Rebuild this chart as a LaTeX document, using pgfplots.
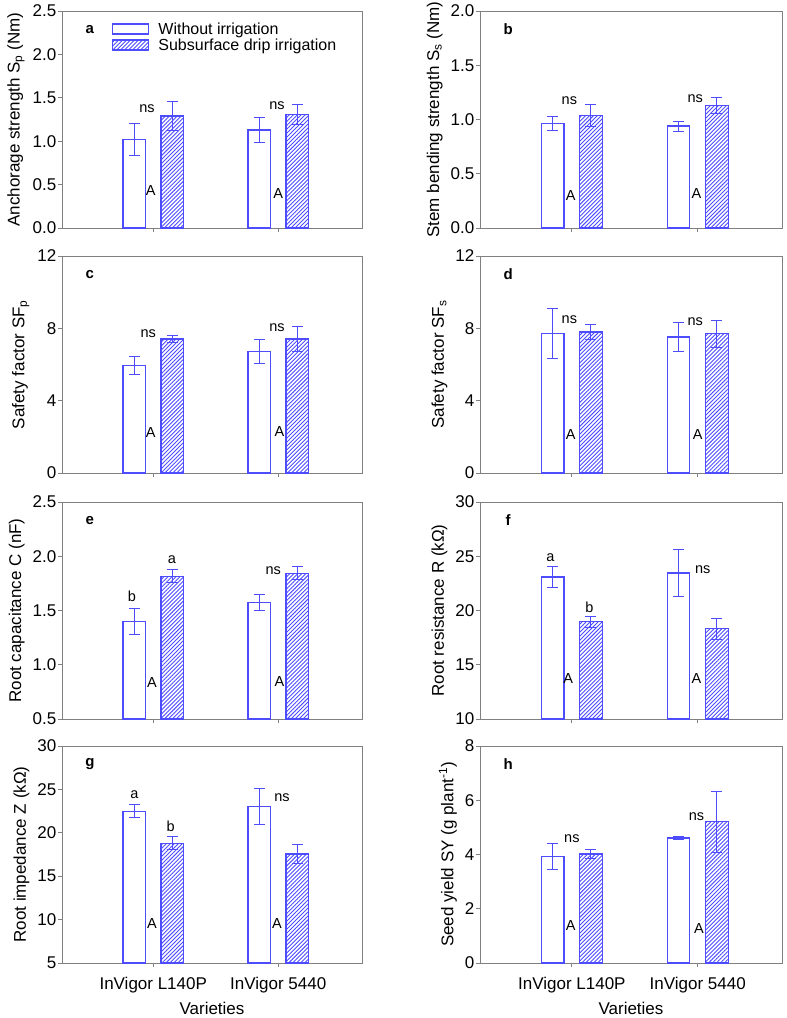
\documentclass[border=0pt]{standalone}
\usepackage{fontspec}
\setmainfont{Liberation Sans}
\usepackage{pgfplots}
\pgfplotsset{compat=1.18}
\usetikzlibrary{patterns.meta}
\definecolor{barblue}{HTML}{4D4DFF}
\definecolor{framegray}{HTML}{808080}
\newcommand\fs[1]{\fontsize{#1bp}{#1bp}\selectfont}

% bars sit at their own x (1 -/+ 0.152), so the error bars line up with them
\pgfplotsset{
  panel/.style={
    scale only axis, width=300bp, height=217bp,
    xmin=0.27, xmax=2.67, xtick={1,2}, xticklabels={},
    tick align=outside, xtick pos=bottom, ytick pos=left,
    major tick length=4bp,
    /pgf/number format/assume math mode=true,
    axis line style={draw=framegray, line width=0.8bp},
    tick style={draw=framegray, line width=0.8bp},
    ticklabel style={font=\fs{17}},
    yticklabel style={inner sep=1.5bp},
    xticklabel style={yshift=-7bp},
    label style={font=\fs{17}},
    ylabel style={yshift=3bp},
    xlabel style={yshift=-2bp},
    legend image code/.code={\draw[##1] (0bp,-5bp) rectangle (36bp,5bp);},
  },
  rcol/.style={panel, width=302bp},
  openbar/.style={ybar, bar width=0.18, bar shift=0, draw=barblue,
    fill=white, line width=1.2bp,
    error bars/.cd, y dir=both, y explicit,
    error bar style={draw=barblue, line width=1bp},
    error mark options={rotate=90, draw=barblue, mark size=5.5bp, line width=1bp}},
  hatchbar/.style={ybar, bar width=0.18, bar shift=0, draw=barblue,
    pattern={Lines[angle=45, distance=2.8bp, line width=0.9bp]},
    pattern color=barblue, line width=1.2bp,
    error bars/.cd, y dir=both, y explicit,
    error bar style={draw=barblue, line width=1bp},
    error mark options={rotate=90, draw=barblue, mark size=5.5bp, line width=1bp}},
}
\tikzset{
  note/.style={font=\fs{14.5}, inner sep=0pt},
  tag/.style={font=\fs{15}\bfseries, inner sep=0pt},
}

\begin{document}
\begin{tikzpicture}
\useasboundingbox (0,0) rectangle (787bp,-1018bp);

% a
\begin{axis}[panel, at={(62bp,-228bp)}, anchor=south west,
  ymin=0, ymax=2.5, ytick={0,0.5,1,1.5,2,2.5},
  yticklabels={0.0,0.5,1.0,1.5,2.0,2.5},
  ylabel={Anchorage strength S\textsubscript{p} (Nm)},
  legend style={at={(rel axis cs:0.165,0.955)}, anchor=north west,
    draw=none, fill=none, font=\fs{16}, row sep=0bp,
    inner sep=0pt, nodes={inner sep=1.5bp},
    /tikz/every odd column/.append style={column sep=8bp}},
  legend cell align=left]
\addplot[openbar] coordinates {(0.848,1.02) +- (0,0.18) (1.848,1.13) +- (0,0.14)};
\addlegendentry{Without irrigation}
\addplot[hatchbar] coordinates {(1.152,1.29) +- (0,0.17) (2.152,1.31) +- (0,0.115)};
\addlegendentry{Subsurface drip irrigation}
\node[tag] at (rel axis cs:0.093,0.915) {a};
\node[note] at (axis cs:0.95,1.38) {ns};
\node[note] at (axis cs:1.99,1.41) {ns};
\node[note] at (axis cs:0.98,0.43) {A};
\node[note] at (axis cs:2.0,0.40) {A};
\end{axis}

% b
\begin{axis}[rcol, at={(480bp,-228bp)}, anchor=south west,
  ymin=0, ymax=2, ytick={0,0.5,1,1.5,2},
  yticklabels={0.0,0.5,1.0,1.5,2.0},
  ylabel={Stem bending strength S\textsubscript{s} (Nm)}]
\addplot[openbar] coordinates {(0.848,0.96) +- (0,0.065) (1.848,0.94) +- (0,0.046)};
\addplot[hatchbar] coordinates {(1.152,1.04) +- (0,0.10) (2.152,1.13) +- (0,0.073)};
\node[tag] at (rel axis cs:0.093,0.915) {b};
\node[note] at (axis cs:0.98,1.17) {ns};
\node[note] at (axis cs:1.98,1.19) {ns};
\node[note] at (axis cs:0.99,0.30) {A};
\node[note] at (axis cs:1.99,0.32) {A};
\end{axis}

% c
\begin{axis}[panel, at={(62bp,-473bp)}, anchor=south west,
  ymin=0, ymax=12, ytick={0,4,8,12},
  ylabel={Safety factor SF\textsubscript{p}}]
\addplot[openbar] coordinates {(0.848,5.93) +- (0,0.5) (1.848,6.74) +- (0,0.67)};
\addplot[hatchbar] coordinates {(1.152,7.41) +- (0,0.19) (2.152,7.41) +- (0,0.71)};
\node[tag] at (rel axis cs:0.093,0.915) {c};
\node[note] at (axis cs:0.96,7.7) {ns};
\node[note] at (axis cs:1.99,8.02) {ns};
\node[note] at (axis cs:0.98,2.22) {A};
\node[note] at (axis cs:2.01,2.28) {A};
\end{axis}

% d
\begin{axis}[rcol, at={(480bp,-473bp)}, anchor=south west,
  ymin=0, ymax=12, ytick={0,4,8,12},
  ylabel={Safety factor SF\textsubscript{s}}]
\addplot[openbar] coordinates {(0.848,7.72) +- (0,1.39) (1.848,7.52) +- (0,0.78)};
\addplot[hatchbar] coordinates {(1.152,7.80) +- (0,0.40) (2.152,7.71) +- (0,0.75)};
\node[tag] at (rel axis cs:0.093,0.915) {d};
\node[note] at (axis cs:0.98,8.48) {ns};
\node[note] at (axis cs:1.98,8.37) {ns};
\node[note] at (axis cs:0.99,2.15) {A};
\node[note] at (axis cs:2.0,2.15) {A};
\end{axis}

% e
\begin{axis}[panel, at={(62bp,-719bp)}, anchor=south west,
  ymin=0.5, ymax=2.5, ytick={0.5,1,1.5,2,2.5},
  yticklabels={0.5,1.0,1.5,2.0,2.5},
  ylabel={Root capacitance C (nF)}]
\addplot[openbar] coordinates {(0.848,1.40) +- (0,0.12) (1.848,1.573) +- (0,0.075)};
\addplot[hatchbar] coordinates {(1.152,1.815) +- (0,0.06) (2.152,1.842) +- (0,0.06)};
\node[tag] at (rel axis cs:0.093,0.915) {e};
\node[note] at (axis cs:0.83,1.63) {b};
\node[note] at (axis cs:1.15,1.965) {a};
\node[note] at (axis cs:1.96,1.863) {ns};
\node[note] at (axis cs:0.99,0.837) {A};
\node[note] at (axis cs:2.01,0.846) {A};
\end{axis}

% f
\begin{axis}[rcol, at={(480bp,-719bp)}, anchor=south west,
  ymin=10, ymax=30, ytick={10,15,20,25,30},
  ylabel={Root resistance R (kΩ)}]
\addplot[openbar] coordinates {(0.848,23.08) +- (0,0.98) (1.848,23.45) +- (0,2.2)};
\addplot[hatchbar] coordinates {(1.152,18.97) +- (0,0.5) (2.152,18.33) +- (0,0.96)};
\node[tag] at (rel axis cs:0.093,0.915) {f};
\node[note] at (axis cs:0.83,24.84) {a};
\node[note] at (axis cs:1.14,20.32) {b};
\node[note] at (axis cs:2.04,23.74) {ns};
\node[note] at (axis cs:0.97,13.71) {A};
\node[note] at (axis cs:1.99,13.71) {A};
\end{axis}

% g
\begin{axis}[panel, at={(62bp,-963bp)}, anchor=south west,
  ymin=5, ymax=30, ytick={5,10,15,20,25,30},
  xticklabels={InVigor L140P, InVigor 5440},
  xlabel={Varieties},
  ylabel={Root impedance Z (kΩ)}]
\addplot[openbar] coordinates {(0.848,22.47) +- (0,0.75) (1.848,23.05) +- (0,2.1)};
\addplot[hatchbar] coordinates {(1.152,18.8) +- (0,0.72) (2.152,17.55) +- (0,1.05)};
\node[tag] at (rel axis cs:0.093,0.915) {g};
\node[note] at (axis cs:0.85,24.42) {a};
\node[note] at (axis cs:1.14,20.77) {b};
\node[note] at (axis cs:2.03,24.04) {ns};
\node[note] at (axis cs:0.99,9.54) {A};
\node[note] at (axis cs:1.99,9.54) {A};
\end{axis}

% h
\begin{axis}[rcol, at={(480bp,-963bp)}, anchor=south west,
  ymin=0, ymax=8, ytick={0,2,4,6,8},
  xticklabels={InVigor L140P, InVigor 5440},
  xlabel={Varieties},
  ylabel={Seed yield SY (g plant\textsuperscript{-1})}]
\addplot[openbar] coordinates {(0.848,3.93) +- (0,0.48) (1.848,4.61) +- (0,0.07)};
\addplot[hatchbar] coordinates {(1.152,4.02) +- (0,0.17) (2.152,5.21) +- (0,1.12)};
\node[tag] at (rel axis cs:0.093,0.915) {h};
\node[note] at (axis cs:1.0,4.59) {ns};
\node[note] at (axis cs:1.99,5.40) {ns};
\node[note] at (axis cs:0.99,1.37) {A};
\node[note] at (axis cs:2.01,1.28) {A};
\end{axis}
\end{tikzpicture}
\end{document}
